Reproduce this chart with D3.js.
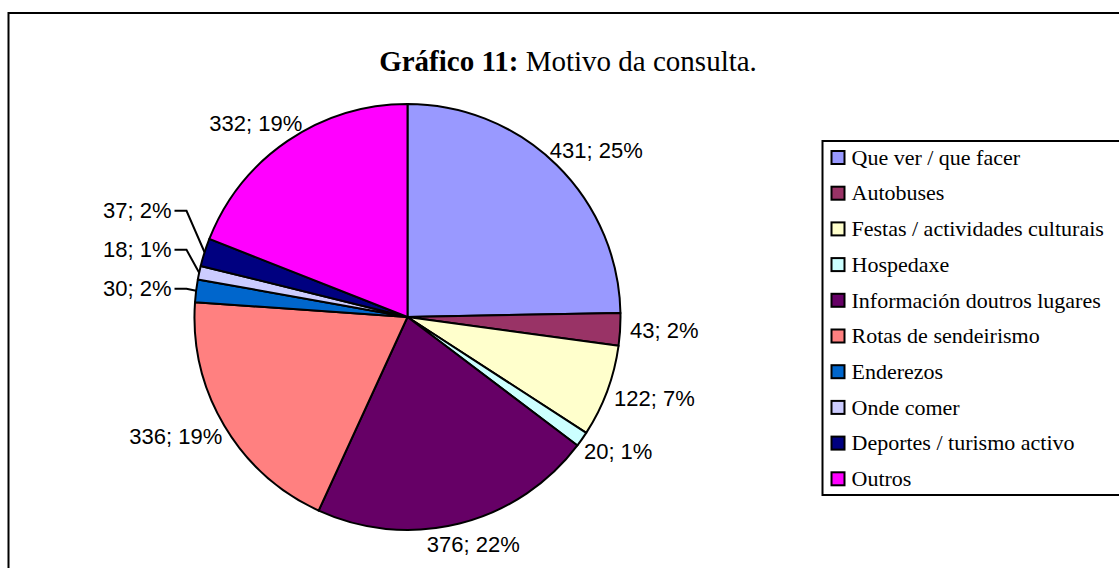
<!DOCTYPE html>
<html>
<head>
<meta charset="utf-8">
<script src="https://cdn.jsdelivr.net/npm/d3@7"></script>
<style>
  body { margin: 0; background: #fff; }
  svg { display: block; }
</style>
</head>
<body>
<svg width="1119" height="568"></svg>
<script>
var categories = ["Que ver / que facer", "Autobuses", "Festas / actividades culturais", "Hospedaxe",
  "Información doutros lugares", "Rotas de sendeirismo", "Enderezos", "Onde comer",
  "Deportes / turismo activo", "Outros"]
var values = [431, 43, 122, 20, 376, 336, 30, 18, 37, 332]
var colors = ["#9999ff", "#993366", "#ffffcc", "#ccffff", "#660066", "#ff8080", "#0066cc", "#ccccff", "#000080", "#ff00ff"]
var titleBold = "Gráfico 11:"
var titleText = " Motivo da consulta."

var svg = d3.select("svg")
var cx = 407.5, cy = 317, R = 213
var total = d3.sum(values)

// chart area border (runs off the right and bottom of the picture)
svg.append("rect")
  .attr("x", 8.5).attr("y", 13).attr("width", 1140).attr("height", 580)
  .attr("fill", "none").attr("stroke", "#000").attr("stroke-width", 2)

svg.append("text")
  .attr("x", 568).attr("y", 71)
  .attr("text-anchor", "middle")
  .style("font-family", "'Liberation Serif', 'Times New Roman', serif")
  .style("font-size", "29px")
  .call(function (t) {
    t.append("tspan").style("font-weight", "bold").text(titleBold)
    t.append("tspan").text(titleText)
  })

var pie = d3.pie().sort(null).value(function (d) { return d })
var arcs = pie(values)
var arc = d3.arc().innerRadius(0).outerRadius(R)

var g = svg.append("g").attr("transform", "translate(" + cx + "," + cy + ")")
g.selectAll("path").data(arcs).enter().append("path")
  .attr("d", arc)
  .attr("fill", function (d, i) { return colors[i] })
  .attr("stroke", "#000").attr("stroke-width", 2).attr("stroke-linejoin", "round")

// data labels
var labelFont = "'Liberation Sans', Arial, sans-serif"
var d0 = 10, lineGap = 39
var leaders = []
arcs.forEach(function (a, i) {
  var mid = (a.startAngle + a.endAngle) / 2
  var s = Math.sin(mid), c = Math.cos(mid)
  var frac = values[i] / total
  var txt = values[i] + "; " + Math.round(frac * 100) + "%"
  var t = svg.append("text")
    .style("font-family", labelFont).style("font-size", "22px")
    .attr("fill", "#000").attr("dy", "0.35em")
    .text(txt)
  if (s < 0 && frac < 0.03) {
    leaders.push({ t: t, ex: cx + R * s, ey: cy - R * c })
    return
  }
  var w = t.node().getComputedTextLength(), h = 22
  var px = cx + (R + d0) * s, py = cy - (R + d0) * c
  t.attr("text-anchor", "middle")
    .attr("x", px + s * w / 2)
    .attr("y", py - c * h / 2)
})

// small left slices: stacked labels with leader lines
leaders.sort(function (a, b) { return b.ey - a.ey })
var elbowX = cx - R - 8, prevY = Infinity
leaders.forEach(function (l) {
  var y = Math.min(l.ey - 2, prevY - lineGap)
  prevY = y
  l.t.attr("text-anchor", "end").attr("x", elbowX - 15).attr("y", y)
  svg.append("path")
    .attr("d", d3.line()([[l.ex, l.ey], [elbowX, y], [elbowX - 12, y]]))
    .attr("fill", "none").attr("stroke", "#000").attr("stroke-width", 2)
})

// legend
var lx = 822.5, ly = 141, step = 35.7
svg.append("rect")
  .attr("x", lx).attr("y", ly).attr("width", 340).attr("height", 354)
  .attr("fill", "#fff").attr("stroke", "#000").attr("stroke-width", 2)
var items = svg.append("g").selectAll("g").data(categories).enter().append("g")
  .attr("transform", function (d, i) { return "translate(" + (lx + 9) + "," + (ly + 16.5 + i * step) + ")" })
items.append("rect")
  .attr("x", 0).attr("y", -6.5).attr("width", 13).attr("height", 13)
  .attr("fill", function (d, i) { return colors[i] })
  .attr("stroke", "#000").attr("stroke-width", 2)
items.append("text")
  .attr("x", 20).attr("dy", "0.33em")
  .style("font-family", "'Liberation Serif', 'Times New Roman', serif")
  .style("font-size", "22px")
  .text(function (d) { return d })
</script>
</body>
</html>
